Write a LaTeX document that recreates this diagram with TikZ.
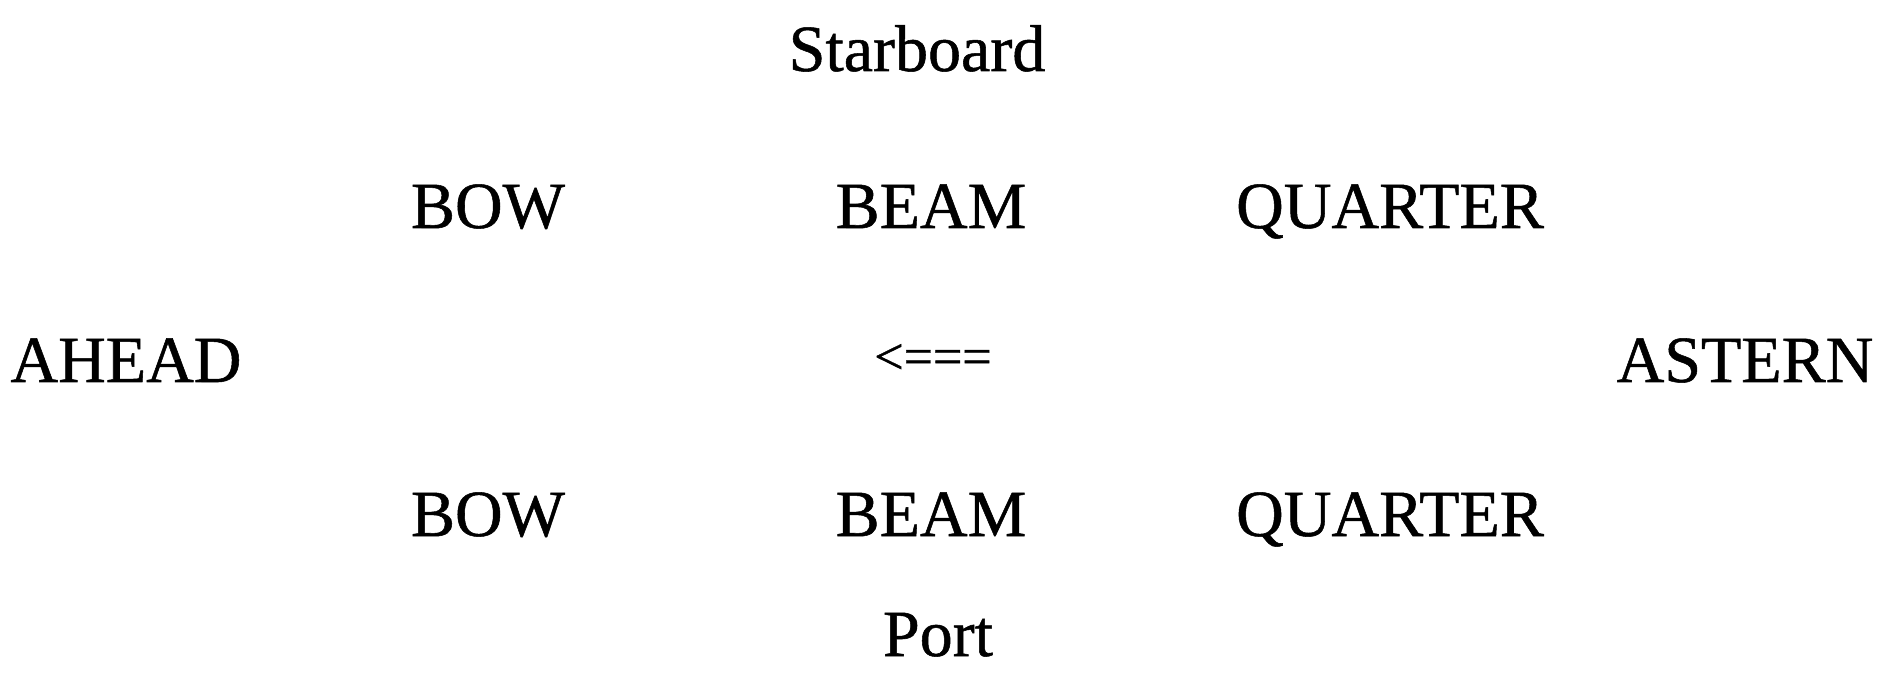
\documentclass[tikz,border=0pt]{standalone}
\usepackage{fontspec}
\setmainfont{Liberation Serif}
\newfontfamily\heavy{Liberation Serif}[FakeBold=0.8]
\begin{document}
\begin{tikzpicture}[x=1pt,y=-1pt,
  lbl/.style={inner sep=0pt,anchor=base,font=\heavy\fontsize{66}{70}\selectfont},
  arr/.style={inner sep=0pt,anchor=center,font=\heavy\fontsize{52}{56}\selectfont}]
\useasboundingbox[fill=white] (0,0) rectangle (1888,692);
\node[lbl] (starboard) at (917,71) {Starboard};
\node[lbl] (bowS) at (488,228) {BOW};
\node[lbl] (beamS) at (931,228) {BEAM};
\node[lbl] (quarterS) at (1390,228) {QUARTER};
\node[lbl] (ahead) at (126,382) {AHEAD};
\node[arr] (dir) at (933,359) {<===};
\node[lbl] (astern) at (1745,382) {ASTERN};
\node[lbl] (bowP) at (488,536) {BOW};
\node[lbl] (beamP) at (931,536) {BEAM};
\node[lbl] (quarterP) at (1390,536) {QUARTER};
\node[lbl] (port) at (938,656) {Port};
\end{tikzpicture}
\end{document}
